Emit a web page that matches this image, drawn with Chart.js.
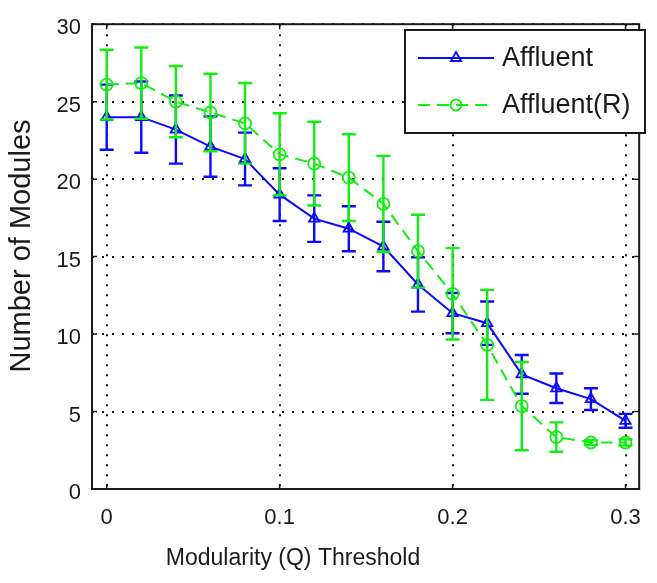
<!DOCTYPE html>
<html>
<head>
<meta charset="utf-8">
<script src="https://cdn.jsdelivr.net/npm/chart.js@4/dist/chart.umd.min.js"></script>
<style>
  html, body { margin: 0; padding: 0; background: #ffffff; }
  #wrap { width: 657px; height: 583px; position: relative; }
</style>
</head>
<body>
<div id="wrap"><canvas id="c" width="657" height="583"></canvas></div>
<script>
// ---- data ----
const thresholds = [0, 0.02, 0.04, 0.06, 0.08, 0.10, 0.12, 0.14, 0.16, 0.18, 0.20, 0.22, 0.24, 0.26, 0.28, 0.30];
const affluent    = [24.0, 24.0, 23.2, 22.1, 21.3, 19.0, 17.45, 16.8, 15.65, 13.2, 11.35, 10.7, 7.4, 6.5, 5.8, 4.4];
const affluentErr = [2.1, 2.3, 2.2, 1.95, 1.7, 1.7, 1.5, 1.45, 1.6, 1.75, 1.3, 1.4, 1.25, 0.95, 0.7, 0.45];
const affluentR    = [26.1, 26.2, 25.0, 24.3, 23.6, 21.6, 21.0, 20.1, 18.4, 15.35, 12.6, 9.3, 5.35, 3.35, 3.0, 3.0];
const affluentRErr = [2.25, 2.3, 2.3, 2.5, 2.6, 2.65, 2.7, 2.8, 3.1, 2.35, 2.95, 3.55, 2.85, 0.95, 0.15, 0.2];
const xTickValues = [0, 0.1, 0.2, 0.3];
const xTickLabels = ['0', '0.1', '0.2', '0.3'];
const seriesNames = ['Affluent', 'Affluent(R)'];
const xTitle = 'Modularity (Q) Threshold';
const yTitle = 'Number of Modules';

const BLUE = '#0a0aff';
const GREEN = '#11ee11';
const FONT = '"Liberation Sans", Arial, Helvetica, sans-serif';

function pts(ys) { return thresholds.map((x, i) => ({ x: x, y: ys[i] })); }

const errors = [affluentErr, affluentRErr];

const errorBarPlugin = {
  id: 'errorBars',
  afterDatasetDraw(chart, args) {
    const i = args.index;
    const ds = chart.data.datasets[i];
    const err = errors[i];
    const xs = chart.scales.x, ys = chart.scales.y;
    const ctx = chart.ctx;
    ctx.save();
    ctx.strokeStyle = ds.borderColor;
    ctx.lineWidth = 2.4;
    ctx.setLineDash([]);
    ds.data.forEach((p, j) => {
      const px = xs.getPixelForValue(p.x);
      const yt = ys.getPixelForValue(p.y + err[j]);
      const yb = ys.getPixelForValue(p.y - err[j]);
      const w = 7;
      ctx.beginPath();
      ctx.moveTo(px, yt); ctx.lineTo(px, yb);
      ctx.moveTo(px - w, yt); ctx.lineTo(px + w, yt);
      ctx.moveTo(px - w, yb); ctx.lineTo(px + w, yb);
      ctx.stroke();
    });
    ctx.restore();
  }
};

const framePlugin = {
  id: 'frame',
  afterDraw(chart) {
    const ctx = chart.ctx;
    const a = chart.chartArea;
    const xs = chart.scales.x, ys = chart.scales.y;
    ctx.save();
    ctx.setLineDash([]);
    ctx.strokeStyle = '#1a1a1a';
    ctx.lineWidth = 2;
    ctx.strokeRect(a.left, a.top, a.right - a.left, a.bottom - a.top);
    // inward tick marks
    ctx.lineWidth = 1.5;
    ctx.beginPath();
    xs.ticks.forEach(t => {
      const px = xs.getPixelForValue(t.value);
      ctx.moveTo(px, a.bottom); ctx.lineTo(px, a.bottom - 5);
      ctx.moveTo(px, a.top); ctx.lineTo(px, a.top + 5);
    });
    ys.ticks.forEach(t => {
      const py = ys.getPixelForValue(t.value);
      ctx.moveTo(a.left, py); ctx.lineTo(a.left + 5, py);
      ctx.moveTo(a.right, py); ctx.lineTo(a.right - 5, py);
    });
    ctx.stroke();

    // axis titles
    ctx.fillStyle = '#1a1a1a';
    ctx.textAlign = 'center';
    ctx.textBaseline = 'middle';
    ctx.font = '23px ' + FONT;
    ctx.fillText(xTitle, 293, 559);
    ctx.save();
    ctx.translate(22, 246);
    ctx.rotate(-Math.PI / 2);
    ctx.font = '29px ' + FONT;
    ctx.fillText(yTitle, 0, 0);
    ctx.restore();

    // legend box
    const L = { x: 405, y: 30, w: 240, h: 103 };
    ctx.fillStyle = '#ffffff';
    ctx.fillRect(L.x, L.y, L.w, L.h);
    ctx.strokeStyle = '#1a1a1a';
    ctx.lineWidth = 2;
    ctx.strokeRect(L.x, L.y, L.w, L.h);
    const rows = [58, 105];
    chart.data.datasets.forEach((ds, i) => {
      const y = rows[i];
      ctx.save();
      ctx.strokeStyle = ds.borderColor;
      ctx.lineWidth = 2;
      ctx.setLineDash(ds.borderDash || []);
      ctx.beginPath();
      ctx.moveTo(418, y); ctx.lineTo(494, y);
      ctx.stroke();
      ctx.setLineDash([]);
      ctx.lineWidth = 1.8;
      ctx.beginPath();
      if (ds.pointStyle === 'triangle') {
        const r = 6;
        ctx.moveTo(456, y - r); ctx.lineTo(456 + r * 0.87, y + r * 0.5); ctx.lineTo(456 - r * 0.87, y + r * 0.5); ctx.closePath();
      } else {
        ctx.arc(456, y, 5.5, 0, Math.PI * 2);
      }
      ctx.stroke();
      ctx.restore();
      ctx.fillStyle = '#1a1a1a';
      ctx.textAlign = 'left';
      ctx.textBaseline = 'middle';
      ctx.font = '27px ' + FONT;
      ctx.fillText(seriesNames[i], 502, y + 1);
    });
    ctx.restore();
  }
};

new Chart(document.getElementById('c'), {
  type: 'line',
  data: {
    datasets: [
      {
        label: seriesNames[0],
        data: pts(affluent),
        borderColor: BLUE,
        backgroundColor: 'rgba(0,0,0,0)',
        borderWidth: 2,
        pointStyle: 'triangle',
        pointRadius: 6,
        pointBorderWidth: 1.8,
        pointBackgroundColor: 'rgba(0,0,0,0)',
        pointBorderColor: BLUE,
        tension: 0,
        order: 1
      },
      {
        label: seriesNames[1],
        data: pts(affluentR),
        borderColor: GREEN,
        backgroundColor: 'rgba(0,0,0,0)',
        borderWidth: 2,
        borderDash: [12, 7],
        pointStyle: 'circle',
        pointRadius: 6,
        pointBorderWidth: 1.8,
        pointBackgroundColor: 'rgba(0,0,0,0)',
        pointBorderColor: GREEN,
        tension: 0,
        order: 0
      }
    ]
  },
  options: {
    responsive: false,
    animation: false,
    devicePixelRatio: 1,
    layout: { padding: { left: 0, top: 18, right: 7, bottom: 0 } },
    plugins: { legend: { display: false }, tooltip: { enabled: false } },
    scales: {
      x: {
        type: 'linear',
        min: -0.0085,
        max: 0.3079,
        afterBuildTicks(scale) { scale.ticks = xTickValues.map(v => ({ value: v })); },
        afterFit(scale) { scale.height = 94; },
        ticks: {
          autoSkip: false,
          maxRotation: 0,
          padding: 16,
          color: '#1a1a1a',
          font: { family: FONT, size: 22 },
          callback: (v, i) => xTickLabels[i]
        },
        grid: { color: '#1a1a1a', lineWidth: 2, drawTicks: false },
        border: { display: false, dash: [2, 8] }
      },
      y: {
        type: 'linear',
        min: 0,
        max: 30,
        afterFit(scale) { scale.width = 92; },
        ticks: {
          stepSize: 5,
          padding: 11,
          labelOffset: 4,
          color: '#1a1a1a',
          font: { family: FONT, size: 22 }
        },
        grid: { color: '#1a1a1a', lineWidth: 2, drawTicks: false },
        border: { display: false, dash: [2, 8] }
      }
    }
  },
  plugins: [errorBarPlugin, framePlugin]
});
</script>
</body>
</html>
